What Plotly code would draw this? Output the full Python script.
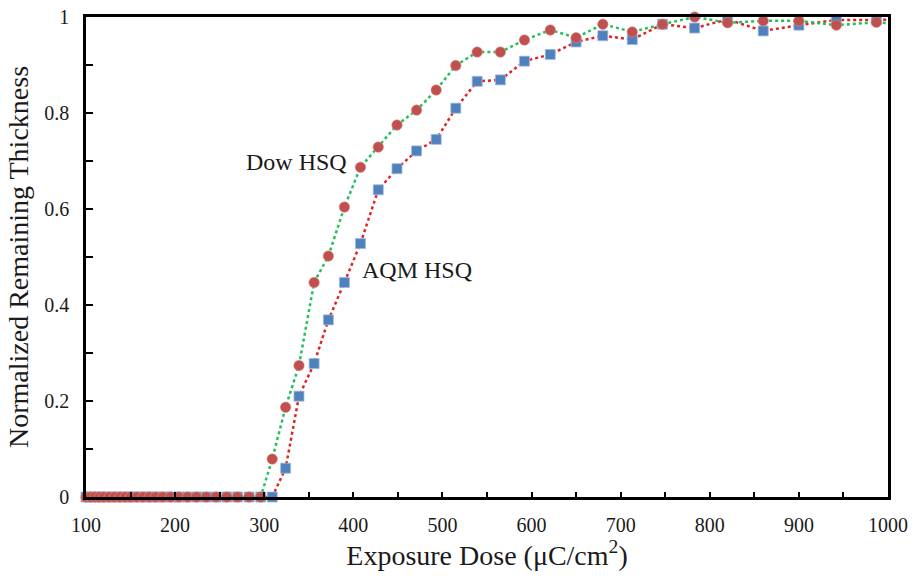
import plotly.graph_objects as go

dose = [100, 105, 110, 115, 120, 126, 132, 138, 144, 150, 157, 164, 171, 178,
        186, 195, 204, 214, 224, 235, 246, 258, 270, 283, 296, 309, 324, 339,
        356, 372, 390, 408, 428, 449, 471, 493, 515, 539, 565, 592, 621, 650,
        680, 713, 747, 783, 820, 860, 900, 942, 987, 1034]

dow_hsq = [0, 0, 0, 0, 0, 0, 0, 0, 0, 0, 0, 0, 0, 0,
           0, 0, 0, 0, 0, 0, 0, 0, 0, 0, 0, 0.079, 0.187, 0.274,
           0.447, 0.502, 0.604, 0.687, 0.729, 0.775, 0.806, 0.848, 0.899, 0.927, 0.927, 0.952, 0.973, 0.957,
           0.985, 0.969, 0.985, 1.0, 0.988, 0.992, 0.992, 0.983, 0.989, 0.982]

aqm_hsq = [0, 0, 0, 0, 0, 0, 0, 0, 0, 0, 0, 0, 0, 0,
           0, 0, 0, 0, 0, 0, 0, 0, 0, 0, 0, 0, 0.06, 0.21,
           0.278, 0.369, 0.447, 0.528, 0.640, 0.684, 0.721, 0.745, 0.81, 0.866, 0.869, 0.908, 0.922, 0.948,
           0.961, 0.953, 0.985, 0.977, 0.995, 0.971, 0.983, 0.994, 0.994, 0.995]

x_ticks = [100, 200, 300, 400, 500, 600, 700, 800, 900, 1000]
y_ticks = [0, 0.2, 0.4, 0.6, 0.8, 1]

FONT = "Liberation Serif, Times New Roman, serif"
RED_MK = "#C0504D"
BLUE_MK = "#4F81BD"
GREEN_LN = "#22C05A"
RED_LN = "#E02424"
TXT = "#1a1a1a"

# markers only for points inside the axis range
vis = [i for i, d in enumerate(dose) if d <= 1000]

fig = go.Figure()
fig.add_trace(go.Scatter(x=dose, y=aqm_hsq, mode="lines",
                         line=dict(color=RED_LN, width=2.5, dash="dot"),
                         showlegend=False, hoverinfo="skip"))
fig.add_trace(go.Scatter(x=[dose[i] for i in vis], y=[aqm_hsq[i] for i in vis],
                         mode="markers", cliponaxis=False, name="AQM HSQ",
                         marker=dict(symbol="square", size=10, color=BLUE_MK,
                                     line=dict(color="#9DB9DE", width=0.8)),
                         showlegend=False))
fig.add_trace(go.Scatter(x=dose, y=dow_hsq, mode="lines",
                         line=dict(color=GREEN_LN, width=2.5, dash="dot"),
                         showlegend=False, hoverinfo="skip"))
fig.add_trace(go.Scatter(x=[dose[i] for i in vis], y=[dow_hsq[i] for i in vis],
                         mode="markers", cliponaxis=False, name="Dow HSQ",
                         marker=dict(symbol="circle", size=10.5, color=RED_MK,
                                     line=dict(color="#D8908E", width=0.6)),
                         showlegend=False))

fig.add_annotation(x=336, y=0.698, text="Dow HSQ", showarrow=False,
                   font=dict(family=FONT, size=24, color=TXT))
fig.add_annotation(x=472, y=0.473, text="AQM HSQ", showarrow=False,
                   font=dict(family=FONT, size=24, color=TXT))

fig.update_layout(
    width=914, height=579,
    margin=dict(l=86, r=26, t=17, b=82, autoexpand=False),
    paper_bgcolor="white", plot_bgcolor="white",
    font=dict(family=FONT, size=20, color=TXT),
    showlegend=False,
)
fig.update_xaxes(
    range=[100, 1000], tickvals=x_ticks, ticks="inside", ticklen=5, tickwidth=1.5,
    tickcolor="black", showline=True, linecolor="black", linewidth=2.5, mirror=True,
    showgrid=False, zeroline=False, ticklabelstandoff=8, automargin=False,
    minor=dict(dtick=50, ticks="inside", ticklen=5, tickwidth=1.5, tickcolor="black", showgrid=False),
    title=dict(text="Exposure Dose (μC/cm<sup>2</sup>)", font=dict(family=FONT, size=28, color=TXT), standoff=8),
)
fig.update_yaxes(
    range=[0, 1], tickvals=y_ticks, ticks="inside", ticklen=7, tickwidth=1.5,
    tickcolor="black", showline=True, linecolor="black", linewidth=2.5, mirror=True,
    showgrid=False, zeroline=False, ticklabelstandoff=10, automargin=False,
    minor=dict(dtick=0.1, ticks="inside", ticklen=7, tickwidth=1.5, tickcolor="black", showgrid=False),
    title=dict(text="Normalized Remaining Thickness", font=dict(family=FONT, size=28, color=TXT), standoff=8),
)

fig.write_html("out.html",
               config={"displayModeBar": False},
               post_script="document.body.style.margin='0';document.body.style.overflow='hidden';")
